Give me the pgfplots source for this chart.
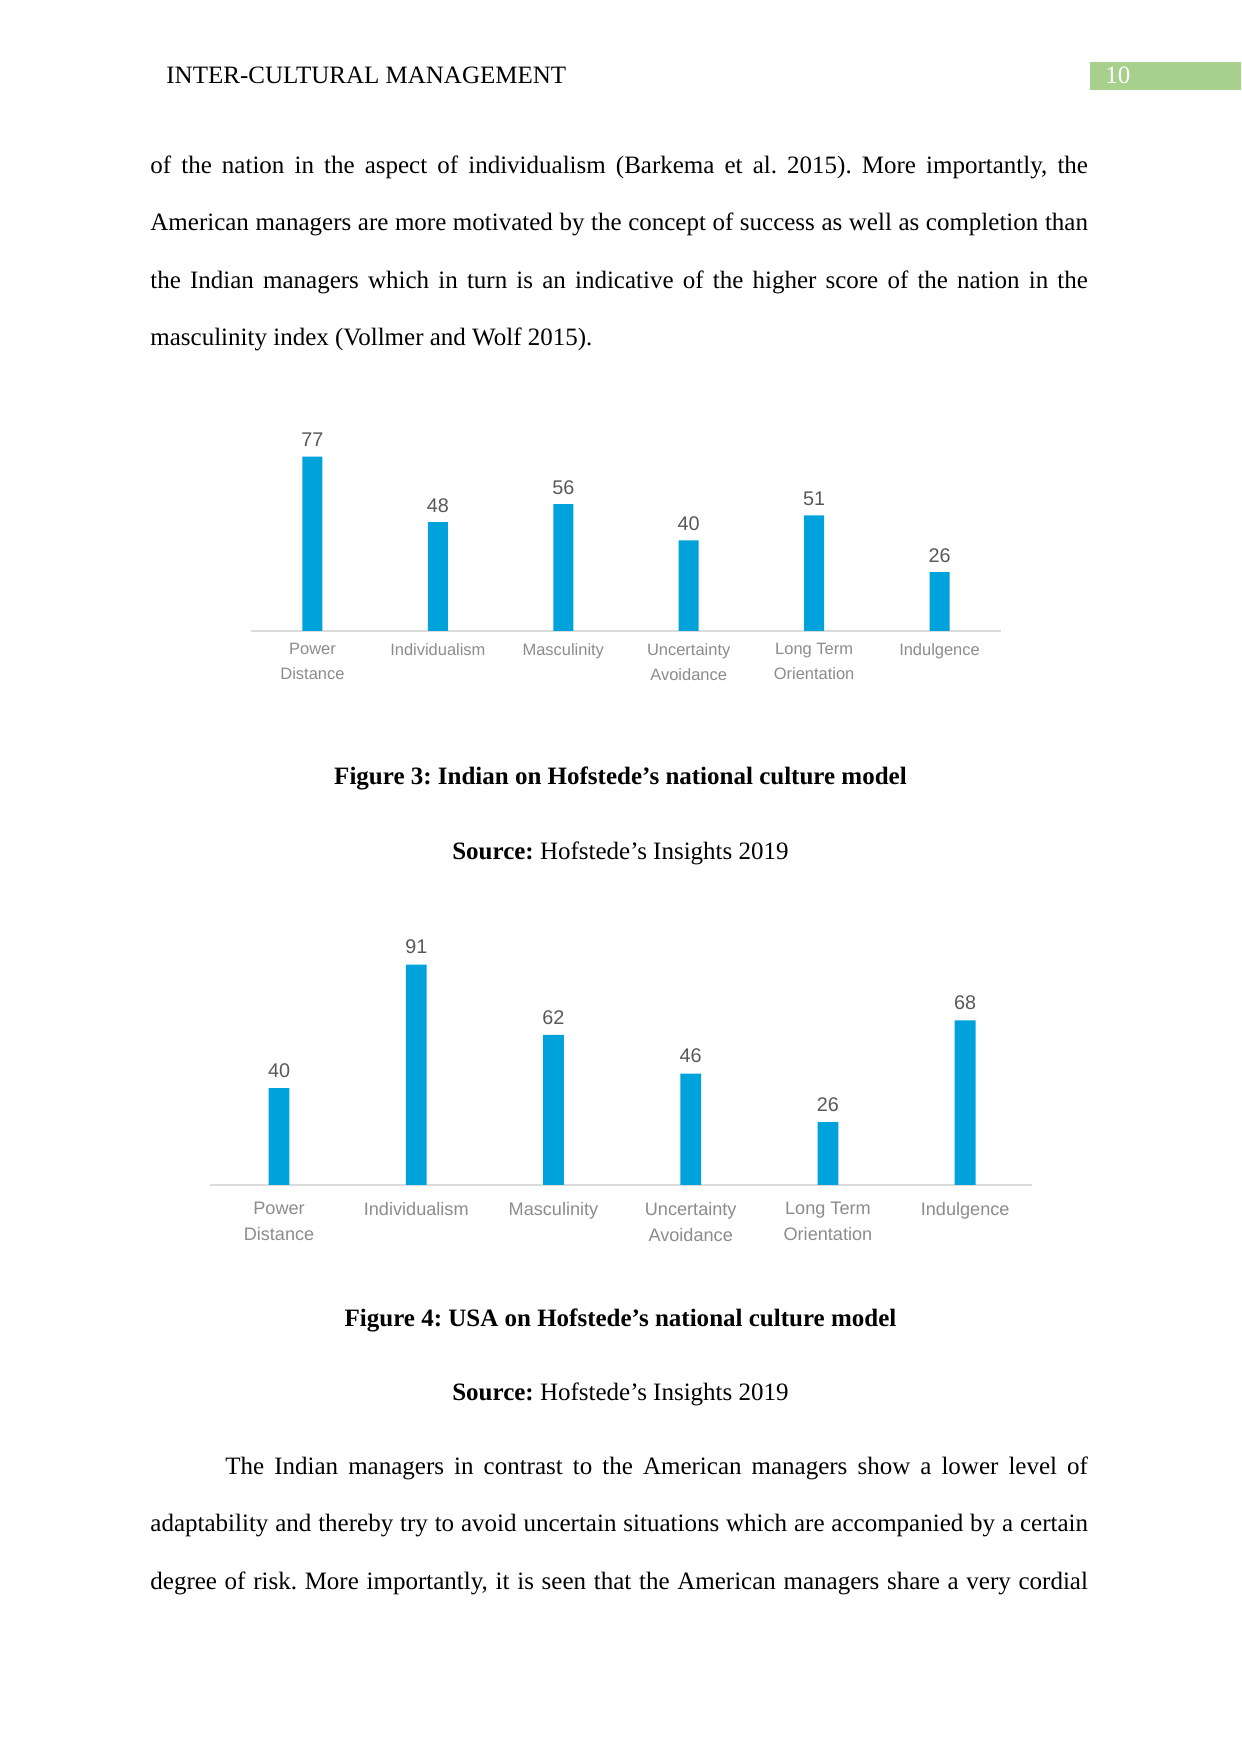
\documentclass[border=0pt]{standalone}
\usepackage{fontspec}
\setmainfont{Liberation Serif}
\newfontfamily\chartfont{Liberation Sans}
\usepackage{pgfplots}
\pgfplotsset{compat=1.18}
\definecolor{barblue}{HTML}{00A2DB}
\definecolor{numgray}{HTML}{595959}
\definecolor{labgray}{HTML}{8C8C8C}
\definecolor{hdrgreen}{HTML}{A8D08D}
\pgfplotsset{hof/.style={
  scale only axis, anchor=south west,
  ymin=0, ymax=100,
  axis x line=bottom, axis y line=none,
  axis line style={draw=black!14, line width=0.8bp, -},
  xtick={0,...,5}, ytick=\empty,
  major tick length=0pt,
  /pgf/number format/assume math mode=true,
  xticklabels={{Power\\Distance},Individualism,Masculinity,{Uncertainty\\Avoidance},{Long Term\\Orientation},Indulgence},
  xticklabel style={align=center, anchor=north, inner sep=0pt, text=labgray},
  nodes near coords,
  every node near coord/.append style={anchor=south, inner sep=0pt, text=numgray,
     font=\chartfont\fontsize{9.5bp}{11bp}\selectfont},
  clip=false,
}}
\begin{document}
\frenchspacing
\begin{tikzpicture}[x=0.48bp,y=0.48bp]
\fill[white] (0,0) rectangle (1241,1754);
% header
\node[anchor=base west, inner sep=0, font=\fontsize{12bp}{14bp}\selectfont] at (166,1754-84) {INTER-CULTURAL MANAGEMENT};
\fill[hdrgreen] (1090,1754-62) rectangle (1241,1754-90);
\node[anchor=base west, inner sep=0, text=white, font=\fontsize{12bp}{14bp}\selectfont] at (1105,1754-84) {10};
% top paragraph
\begin{scope}[every node/.style={anchor=base west, inner sep=0, font=\fontsize{12bp}{14bp}\selectfont}]
\node at (150,1754-173.5) {\makebox[450bp][s]{of the nation in the aspect of individualism (Barkema et al. 2015). More importantly, the}};
\node at (150,1754-231) {\makebox[450bp][s]{American managers are more motivated by the concept of success as well as completion than}};
\node at (150,1754-288.5) {\makebox[450bp][s]{the Indian managers which in turn is an indicative of the higher score of the nation in the}};
\node at (150,1754-346) {masculinity index (Vollmer and Wolf 2015).};
% bottom paragraph
\node at (225,1754-1474.5) {\makebox[414bp][s]{The Indian managers in contrast to the American managers show a lower level of}};
\node at (150,1754-1532) {\makebox[450bp][s]{adaptability and thereby try to avoid uncertain situations which are accompanied by a certain}};
\node at (150,1754-1589.5) {\makebox[450bp][s]{degree of risk. More importantly, it is seen that the American managers share a very cordial}};
\end{scope}
% captions
\begin{scope}[every node/.style={anchor=base, inner sep=0, font=\fontsize{12bp}{14bp}\selectfont}]
\node at (620.5,1754-785) {\textbf{Figure 3: Indian on Hofstede’s national culture model}};
\node at (620.5,1754-860) {\textbf{Source:} Hofstede’s Insights 2019};
\node at (620.5,1754-1326.5) {\textbf{Figure 4: USA on Hofstede’s national culture model}};
\node at (620.5,1754-1400.5) {\textbf{Source:} Hofstede’s Insights 2019};
\end{scope}
% chart 1 (India)
\begin{axis}[hof,
  at={(120.24bp,539.04bp)},
  width=360.2bp, height=108.7bp,
  xmin=-0.494, xmax=5.49,
  xticklabel style={yshift=-5.8bp, font=\chartfont\fontsize{7.9bp}{12bp}\selectfont},
  every node near coord/.append style={yshift=4.5bp},
]
\addplot[ybar, bar width=9.6bp, fill=barblue, draw=none] coordinates {(0,77) (1,48) (2,56) (3,40) (4,51) (5,26)};
\end{axis}
% chart 2 (USA)
\begin{axis}[hof,
  at={(100.8bp,273.12bp)},
  width=394.6bp, height=116.2bp,
  xmin=-0.503, xmax=5.488,
  xticklabel style={yshift=-8bp, font=\chartfont\fontsize{8.7bp}{12.6bp}\selectfont},
  every node near coord/.append style={yshift=4.9bp},
]
\addplot[ybar, bar width=10bp, fill=barblue, draw=none] coordinates {(0,40) (1,91) (2,62) (3,46) (4,26) (5,68)};
\end{axis}
\end{tikzpicture}
\end{document}
